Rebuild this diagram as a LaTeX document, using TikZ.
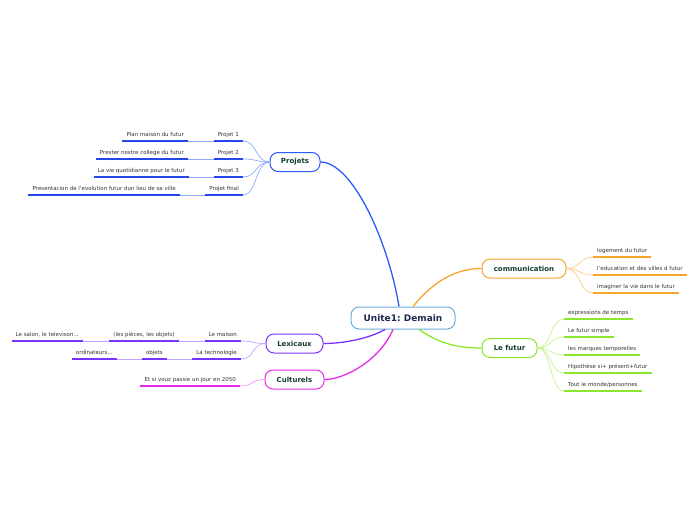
\documentclass[tikz,border=0pt]{standalone}
\usepackage{fontspec}
\setmainfont{DejaVu Sans}
\usetikzlibrary{calc}
\definecolor{txt}{HTML}{333333}
\definecolor{dk}{HTML}{123D33}
\definecolor{cen}{HTML}{6AAEE0}
\definecolor{cenT}{HTML}{1B2A4E}
\definecolor{bl}{HTML}{2A5BFF}
\definecolor{blU}{HTML}{2448E8}
\definecolor{blL}{HTML}{8EA8FF}
\definecolor{or}{HTML}{F7A42A}
\definecolor{orL}{HTML}{FCCB80}
\definecolor{gr}{HTML}{8AE82A}
\definecolor{grL}{HTML}{C4F290}
\definecolor{pu}{HTML}{7A33FF}
\definecolor{puL}{HTML}{C0A4FF}
\definecolor{ma}{HTML}{E82AE8}
\definecolor{maL}{HTML}{F59AF5}
\tikzset{
  mainbox/.style={rounded corners=8pt, line width=1pt, fill=white, minimum height=19pt,
    inner sep=0pt, font=\bfseries\fontsize{7}{8}\selectfont, text=dk},
  leaf/.style={font=\fontsize{5.5}{6}\selectfont, text=txt, inner xsep=4pt, inner ysep=0pt,
    text height=4.5pt, text depth=4pt},
  link/.style={line width=0.7pt},
  uline/.style={line width=1.5pt},
  mainlink/.style={line width=1.3pt}
}
\begin{document}
\frenchspacing
\begin{tikzpicture}[x=1pt,y=-1pt]
\useasboundingbox (0,0) rectangle (696,520);

% main nodes
\node[mainbox, draw=cen, minimum width=104pt, minimum height=22pt,
      font=\bfseries\fontsize{9}{10}\selectfont, text=cenT] (c) at (403,318) {Unite1: Demain};
\node[mainbox, draw=bl, minimum width=50pt] (pr) at (295,162) {Projets};
\node[mainbox, draw=or, minimum width=84pt] (co) at (524,268.5) {communication};
\node[mainbox, draw=gr, minimum width=55pt] (lf) at (509.5,348) {Le futur};
\node[mainbox, draw=pu, minimum width=57pt] (lx) at (294.5,343.5) {Lexicaux};
\node[mainbox, draw=ma, minimum width=59pt] (cu) at (294.5,379.5) {Culturels};

% main connectors
\draw[bl, mainlink] ($(c.north)+(-4,0)$) .. controls (388,240) and (352,162) .. (pr.east);
\draw[or, mainlink] ($(c.north)+(10,0)$) .. controls (428,288) and (450,268.5) .. (co.west);
\draw[gr, mainlink] ($(c.south)+(16,0)$) .. controls (440,344) and (458,348) .. (lf.west);
\draw[pu, mainlink] ($(c.south)+(-18,0)$) .. controls (370,338) and (345,343.5) .. (lx.east);
\draw[ma, mainlink] ($(c.south)+(-10,0)$) .. controls (380,360) and (345,379.5) .. (cu.east);

% Projets leaves
\node[leaf, anchor=south east] (p1) at (243,141) {Projet 1};
\node[leaf, anchor=south east] (p1b) at (188,141) {Plan maison du futur};
\node[leaf, anchor=south east] (p2) at (243,159) {Projet 2};
\node[leaf, anchor=south east] (p2b) at (188,159) {Prester nostre college du futur};
\node[leaf, anchor=south east] (p3) at (243,177) {Projet 3};
\node[leaf, anchor=south east] (p3b) at (189,177) {La vie quotidianne pour le futur};
\node[leaf, anchor=south east] (p4) at (243,195) {Projet final};
\node[leaf, anchor=south east] (p4b) at (180,195) {Presentacion de l'evolution futur dun lieu de sa ville};
\foreach \n in {p1,p1b,p2,p2b,p3,p3b,p4,p4b}
  \draw[blU, uline] (\n.south west) -- (\n.south east);
\foreach \n in {p1,p2,p3,p4} {
  \draw[blL, link] (pr.west) .. controls +(-14,0) and +(14,0) .. (\n.south east);
  \draw[blL, link] (\n.south west) -- (\n b.south east);
}

% communication leaves
\node[leaf, anchor=south west] (c1) at (593,257) {logement du futur};
\node[leaf, anchor=south west] (c2) at (593,275) {l'education et des villes d futur};
\node[leaf, anchor=south west] (c3) at (593,293) {imaginer la vie dans le futur};
\foreach \n in {c1,c2,c3} {
  \draw[or, uline] (\n.south west) -- (\n.south east);
  \draw[orL, link] (co.east) .. controls +(14,0) and +(-14,0) .. (\n.south west);
}

% Le futur leaves
\node[leaf, anchor=south west] (f1) at (564,319) {expressions de temps};
\node[leaf, anchor=south west] (f2) at (564,337) {Le futur simple};
\node[leaf, anchor=south west] (f3) at (564,355) {les marques temporelles};
\node[leaf, anchor=south west] (f4) at (564,373) {Hipothèse si+ présent+futur};
\node[leaf, anchor=south west] (f5) at (564,391) {Tout le monde/personnes};
\foreach \n in {f1,f2,f3,f4,f5} {
  \draw[gr, uline] (\n.south west) -- (\n.south east);
  \draw[grL, link] (lf.east) .. controls +(14,0) and +(-14,0) .. (\n.south west);
}

% Lexicaux leaves
\node[leaf, anchor=south east] (l1) at (241,341) {Le maison};
\node[leaf, anchor=south east] (l1b) at (179,341) {(les pièces, les objets)};
\node[leaf, anchor=south east] (l1c) at (83,341) {Le salon, le televison...};
\node[leaf, anchor=south east] (l2) at (241,359) {La technologie};
\node[leaf, anchor=south east] (l2b) at (167,359) {objets};
\node[leaf, anchor=south east] (l2c) at (117,359) {ordinateurs...};
\foreach \n in {l1,l1b,l1c,l2,l2b,l2c}
  \draw[pu, uline] (\n.south west) -- (\n.south east);
\foreach \n in {l1,l2} {
  \draw[puL, link] (lx.west) .. controls +(-14,0) and +(14,0) .. (\n.south east);
  \draw[puL, link] (\n.south west) -- (\n b.south east);
  \draw[puL, link] (\n b.south west) -- (\n c.south east);
}

% Culturels leaf
\node[leaf, anchor=south east] (k1) at (240,386) {Et si vouz passie un jour en 2050};
\draw[ma, uline] (k1.south west) -- (k1.south east);
\draw[maL, link] (cu.west) .. controls +(-14,0) and +(14,0) .. (k1.south east);

\end{tikzpicture}
\end{document}
